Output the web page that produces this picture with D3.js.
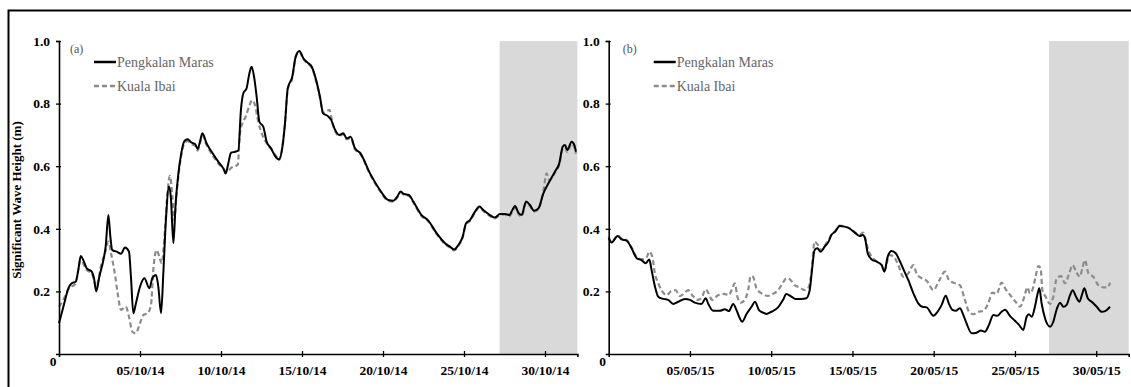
<!DOCTYPE html>
<html><head><meta charset="utf-8">
<script src="https://cdn.jsdelivr.net/npm/d3@7/dist/d3.min.js"></script>
<style>
html,body{margin:0;padding:0;background:#fff;}
svg{display:block;}
text{font-family:"Liberation Serif","Times New Roman",serif;}
</style></head><body>
<svg id="chart" width="1131" height="387"></svg>
<script>
// ---- DATA ----
const seriesNames = ["Pengkalan Maras", "Kuala Ibai"];
const panelTags = ["(a)", "(b)"];
const yTickValues = [0.2, 0.4, 0.6, 0.8, 1.0];
const yTickLabels = ["0.2", "0.4", "0.6", "0.8", "1.0"];
const xTickDays = [5, 10, 15, 20, 25, 30];
const octTickLabels = ["05/10/14", "10/10/14", "15/10/14", "20/10/14", "25/10/14", "30/10/14"];
const mayTickLabels = ["05/05/15", "10/05/15", "15/05/15", "20/05/15", "25/05/15", "30/05/15"];
const dayDomain = [0, 32];
const octShade = [27.2, 32];
const mayShade = [27.1, 32];
// [day since start, significant wave height (m)]
const octMaras = [[0,0.098],[0.27,0.151],[0.58,0.21],[0.78,0.226],[1.03,0.231],[1.19,0.268],[1.34,0.313],[1.5,0.30],[1.71,0.274],[2.02,0.263],[2.16,0.242],[2.3,0.20],[2.49,0.247],[2.74,0.30],[2.88,0.343],[3.05,0.444],[3.17,0.375],[3.29,0.332],[3.56,0.327],[3.83,0.32],[4.07,0.34],[4.32,0.327],[4.44,0.247],[4.59,0.13],[4.75,0.162],[5.0,0.215],[5.27,0.242],[5.58,0.21],[5.76,0.242],[5.99,0.252],[6.13,0.215],[6.3,0.13],[6.44,0.258],[6.6,0.428],[6.79,0.535],[6.91,0.497],[7.06,0.354],[7.2,0.481],[7.37,0.577],[7.53,0.636],[7.74,0.68],[7.94,0.686],[8.19,0.675],[8.4,0.671],[8.56,0.655],[8.7,0.678],[8.85,0.705],[9.11,0.673],[9.42,0.646],[9.84,0.614],[10.14,0.593],[10.29,0.577],[10.45,0.609],[10.62,0.643],[10.86,0.646],[11.07,0.65],[11.23,0.78],[11.38,0.833],[11.58,0.849],[11.73,0.891],[11.89,0.918],[12.04,0.886],[12.2,0.822],[12.37,0.742],[12.61,0.726],[12.82,0.678],[13.09,0.657],[13.33,0.633],[13.58,0.622],[13.79,0.662],[13.95,0.737],[14.12,0.849],[14.4,0.886],[14.61,0.95],[14.84,0.968],[15.08,0.945],[15.39,0.929],[15.6,0.918],[15.9,0.87],[16.11,0.822],[16.3,0.769],[16.6,0.76],[16.8,0.748],[17.0,0.721],[17.3,0.70],[17.55,0.705],[17.76,0.689],[18.0,0.694],[18.27,0.657],[18.58,0.643],[19.2,0.577],[19.81,0.524],[20.33,0.492],[20.64,0.49],[20.88,0.503],[21.09,0.519],[21.3,0.511],[21.6,0.508],[21.87,0.487],[22.38,0.444],[22.8,0.426],[23.31,0.386],[23.83,0.354],[24.13,0.343],[24.38,0.334],[24.65,0.348],[24.92,0.375],[25.12,0.417],[25.37,0.428],[25.68,0.455],[25.95,0.471],[26.19,0.46],[26.6,0.444],[26.91,0.436],[27.22,0.447],[27.53,0.447],[27.8,0.444],[27.94,0.455],[28.15,0.473],[28.35,0.452],[28.56,0.444],[28.83,0.487],[29.07,0.476],[29.32,0.458],[29.59,0.465],[29.9,0.513],[30.27,0.551],[30.62,0.583],[30.88,0.609],[31.09,0.662],[31.23,0.668],[31.38,0.652],[31.64,0.678],[31.81,0.668],[31.91,0.646]];
const octIbai = [[0,0.151],[0.27,0.173],[0.58,0.207],[1.03,0.226],[1.19,0.268],[1.34,0.30],[1.71,0.268],[2.02,0.258],[2.3,0.215],[2.63,0.29],[2.84,0.322],[3.05,0.359],[3.21,0.322],[3.46,0.252],[3.62,0.194],[3.83,0.141],[4.12,0.151],[4.32,0.119],[4.53,0.071],[4.73,0.066],[5.0,0.098],[5.21,0.125],[5.47,0.13],[5.68,0.157],[5.82,0.268],[6.03,0.332],[6.19,0.311],[6.34,0.29],[6.54,0.396],[6.71,0.524],[6.85,0.569],[7.0,0.503],[7.12,0.428],[7.26,0.513],[7.47,0.609],[7.74,0.673],[7.94,0.68],[8.19,0.67],[8.4,0.665],[8.56,0.65],[8.7,0.672],[8.85,0.698],[9.11,0.668],[9.42,0.64],[9.84,0.608],[10.14,0.593],[10.35,0.582],[10.66,0.596],[11.03,0.604],[11.17,0.705],[11.32,0.737],[11.52,0.758],[11.73,0.79],[11.93,0.811],[12.1,0.795],[12.3,0.742],[12.55,0.70],[12.82,0.673],[13.13,0.652],[13.44,0.63],[13.58,0.62],[13.79,0.66],[13.95,0.735],[14.12,0.845],[14.4,0.882],[14.61,0.947],[14.84,0.965],[15.08,0.942],[15.39,0.926],[15.6,0.915],[15.9,0.866],[16.11,0.818],[16.3,0.77],[16.7,0.78],[16.85,0.745],[17.0,0.718],[17.3,0.697],[17.55,0.702],[17.76,0.686],[18.0,0.69],[18.27,0.654],[18.58,0.64],[19.2,0.574],[19.81,0.521],[20.33,0.489],[20.64,0.487],[20.88,0.5],[21.09,0.516],[21.3,0.508],[21.6,0.505],[21.87,0.484],[22.38,0.441],[22.8,0.423],[23.31,0.383],[23.83,0.351],[24.13,0.34],[24.38,0.331],[24.65,0.345],[24.92,0.372],[25.12,0.414],[25.37,0.425],[25.68,0.452],[25.95,0.468],[26.19,0.457],[26.6,0.441],[26.91,0.433],[27.22,0.444],[27.53,0.446],[27.8,0.44],[27.94,0.45],[28.15,0.468],[28.35,0.448],[28.56,0.44],[28.83,0.482],[29.07,0.472],[29.32,0.455],[29.59,0.462],[29.9,0.52],[30.1,0.577],[30.27,0.555],[30.62,0.58],[30.88,0.605],[31.09,0.655],[31.23,0.66],[31.38,0.645],[31.64,0.672],[31.81,0.66],[31.91,0.64]];
const mayMaras = [[0,0.37],[0.18,0.356],[0.55,0.377],[0.8,0.366],[1.1,0.362],[1.41,0.338],[1.72,0.306],[2.02,0.30],[2.27,0.29],[2.5,0.302],[2.64,0.268],[2.85,0.215],[3.05,0.183],[3.36,0.176],[3.66,0.173],[3.97,0.16],[4.28,0.167],[4.69,0.176],[5.0,0.173],[5.3,0.164],[5.71,0.16],[5.97,0.178],[6.13,0.16],[6.43,0.138],[6.84,0.138],[7.14,0.143],[7.39,0.137],[7.66,0.16],[7.86,0.141],[8.07,0.114],[8.21,0.103],[8.48,0.128],[8.79,0.151],[9.0,0.167],[9.24,0.141],[9.5,0.132],[9.7,0.128],[10.01,0.135],[10.42,0.149],[10.73,0.173],[10.93,0.192],[11.2,0.185],[11.48,0.176],[11.85,0.176],[12.16,0.178],[12.37,0.204],[12.51,0.268],[12.67,0.332],[12.84,0.338],[13.04,0.327],[13.29,0.343],[13.53,0.359],[13.7,0.38],[13.94,0.391],[14.21,0.409],[14.51,0.407],[14.82,0.401],[15.13,0.388],[15.44,0.377],[15.64,0.38],[15.77,0.37],[15.94,0.322],[16.18,0.302],[16.49,0.295],[16.8,0.284],[16.96,0.263],[17.17,0.311],[17.41,0.329],[17.66,0.322],[17.93,0.295],[18.2,0.263],[18.44,0.236],[18.75,0.194],[19.05,0.162],[19.3,0.151],[19.57,0.149],[19.98,0.122],[20.24,0.135],[20.49,0.157],[20.74,0.186],[20.94,0.16],[21.15,0.141],[21.36,0.138],[21.61,0.146],[21.82,0.125],[22.02,0.098],[22.34,0.066],[22.64,0.068],[22.9,0.075],[23.15,0.071],[23.4,0.093],[23.67,0.125],[23.91,0.122],[24.18,0.135],[24.39,0.141],[24.69,0.122],[25.0,0.106],[25.25,0.093],[25.51,0.077],[25.72,0.119],[25.86,0.127],[26.03,0.119],[26.23,0.151],[26.4,0.194],[26.5,0.21],[26.64,0.162],[26.85,0.114],[27.16,0.087],[27.36,0.103],[27.57,0.143],[27.78,0.164],[27.98,0.151],[28.18,0.157],[28.39,0.188],[28.55,0.204],[28.76,0.183],[28.97,0.167],[29.15,0.194],[29.27,0.21],[29.48,0.178],[29.72,0.167],[30.03,0.151],[30.34,0.135],[30.58,0.138],[30.85,0.151]];
const mayIbai = [[0,0.375],[0.18,0.358],[0.55,0.378],[0.8,0.368],[1.1,0.364],[1.41,0.34],[1.72,0.31],[2.02,0.302],[2.33,0.309],[2.5,0.327],[2.68,0.311],[2.84,0.258],[3.05,0.226],[3.25,0.204],[3.56,0.188],[3.87,0.202],[4.11,0.204],[4.38,0.185],[4.69,0.196],[4.89,0.204],[5.14,0.188],[5.5,0.173],[5.75,0.183],[5.97,0.207],[6.16,0.192],[6.36,0.173],[6.73,0.188],[7.1,0.192],[7.39,0.188],[7.59,0.207],[7.76,0.226],[7.92,0.183],[8.13,0.164],[8.37,0.173],[8.58,0.204],[8.74,0.249],[8.88,0.247],[9.09,0.21],[9.4,0.194],[9.8,0.186],[10.11,0.192],[10.42,0.204],[10.73,0.228],[10.93,0.242],[11.14,0.239],[11.44,0.22],[11.75,0.213],[12.06,0.204],[12.3,0.213],[12.47,0.258],[12.67,0.359],[12.88,0.348],[13.08,0.332],[13.39,0.354],[13.53,0.362],[13.7,0.382],[13.94,0.393],[14.21,0.41],[14.51,0.408],[14.82,0.402],[15.13,0.39],[15.44,0.38],[15.64,0.388],[15.77,0.373],[15.98,0.332],[16.39,0.30],[16.8,0.284],[17.0,0.268],[17.25,0.316],[17.51,0.313],[17.82,0.284],[18.13,0.247],[18.44,0.258],[18.75,0.284],[18.95,0.256],[19.26,0.242],[19.57,0.234],[19.98,0.204],[20.33,0.234],[20.69,0.263],[20.94,0.236],[21.21,0.228],[21.61,0.22],[21.92,0.173],[22.17,0.135],[22.44,0.127],[22.75,0.135],[23.05,0.138],[23.36,0.162],[23.61,0.196],[23.87,0.192],[24.18,0.228],[24.43,0.207],[24.74,0.186],[25.04,0.167],[25.31,0.151],[25.58,0.183],[25.76,0.213],[25.92,0.194],[26.09,0.207],[26.27,0.247],[26.44,0.281],[26.58,0.274],[26.69,0.204],[26.89,0.183],[27.16,0.16],[27.36,0.183],[27.57,0.242],[27.84,0.249],[28.08,0.226],[28.33,0.256],[28.55,0.284],[28.76,0.263],[29.0,0.247],[29.15,0.274],[29.31,0.30],[29.52,0.258],[29.82,0.247],[30.13,0.22],[30.44,0.213],[30.71,0.213],[30.85,0.228]];

// ---- DRAW ----
const svg = d3.select("#chart");
svg.append("rect").attr("x", 8.5).attr("y", 10.5).attr("width", 1200).attr("height", 500)
  .attr("fill", "none").attr("stroke", "#000").attr("stroke-width", 2);

const y = d3.scaleLinear().domain([0, 1]).range([354, 41]);

svg.append("text").attr("transform", "translate(21,200) rotate(-90)")
  .attr("text-anchor", "middle").attr("font-size", 13).attr("font-weight", "bold")
  .text("Significant Wave Height (m)");

const panels = [
  {x0: 59, x1: 577.4, maras: octMaras, ibai: octIbai, ticks: octTickLabels, shade: octShade, tag: panelTags[0], tagDx: 11, legDx: 35},
  {x0: 608.7, x1: 1128.7, maras: mayMaras, ibai: mayIbai, ticks: mayTickLabels, shade: mayShade, tag: panelTags[1], tagDx: 14, legDx: 45}
];

panels.forEach(p => {
  const x = d3.scaleLinear().domain(dayDomain).range([p.x0, p.x1]);
  const g = svg.append("g");
  // shading
  g.append("rect").attr("x", x(p.shade[0])).attr("y", y(1))
    .attr("width", x(p.shade[1]) - x(p.shade[0])).attr("height", y(0) - y(1))
    .attr("fill", "#d9d9d9");
  const line = d3.line().x(d => x(d[0])).y(d => y(d[1])).curve(d3.curveMonotoneX);
  g.append("path").datum(p.ibai).attr("d", line).attr("fill", "none")
    .attr("stroke", "#8c8c8c").attr("stroke-width", 2.2).attr("stroke-dasharray", "5,3");
  g.append("path").datum(p.maras).attr("d", line).attr("fill", "none")
    .attr("stroke", "#000").attr("stroke-width", 2);

  // x axis
  const xa = g.append("g").attr("transform", `translate(0,${y(0)})`)
    .call(d3.axisBottom(x).tickValues(xTickDays).tickFormat((d, i) => p.ticks[i]).tickSizeOuter(0).tickSize(3).tickPadding(8));
  xa.select(".domain").attr("stroke", "#000").attr("stroke-width", 1.6);
  xa.selectAll(".tick line").attr("y1", -3).attr("y2", 3).attr("stroke-width", 1.3);
  xa.selectAll(".tick text").attr("font-family", "Liberation Serif, serif").attr("font-size", 13.5).attr("font-weight", "bold").attr("fill", "#000");

  // y axis
  const ya = g.append("g").attr("transform", `translate(${p.x0},0)`)
    .call(d3.axisLeft(y).tickValues(yTickValues).tickFormat((d, i) => yTickLabels[i]).tickSizeOuter(0).tickSize(3).tickPadding(6));
  ya.select(".domain").attr("stroke", "#000").attr("stroke-width", 1.6);
  ya.selectAll(".tick line").attr("x1", -3).attr("x2", 2).attr("stroke-width", 1.3);
  ya.selectAll(".tick text").attr("font-family", "Liberation Serif, serif").attr("font-size", 13.5).attr("font-weight", "bold").attr("fill", "#000");
  g.append("text").attr("x", p.x0 - 6).attr("y", y(0) + 12).attr("text-anchor", "middle")
    .attr("font-size", 13.5).attr("font-weight", "bold").text("0");

  // tag & legend
  g.append("text").attr("x", p.x0 + p.tagDx).attr("y", 53).attr("font-size", 12).attr("fill", "#555").text(p.tag);
  const lx = p.x0 + p.legDx;
  g.append("line").attr("x1", lx).attr("x2", lx + 22).attr("y1", 62).attr("y2", 62).attr("stroke", "#000").attr("stroke-width", 2.5);
  g.append("text").attr("x", lx + 23).attr("y", 66.5).attr("font-size", 14).attr("fill", "#666").text(seriesNames[0]);
  g.append("line").attr("x1", lx).attr("x2", lx + 22).attr("y1", 86).attr("y2", 86).attr("stroke", "#8c8c8c").attr("stroke-width", 2.5).attr("stroke-dasharray", "5,3");
  g.append("text").attr("x", lx + 23).attr("y", 90.5).attr("font-size", 14).attr("fill", "#666").text(seriesNames[1]);
});
</script>
</body></html>
